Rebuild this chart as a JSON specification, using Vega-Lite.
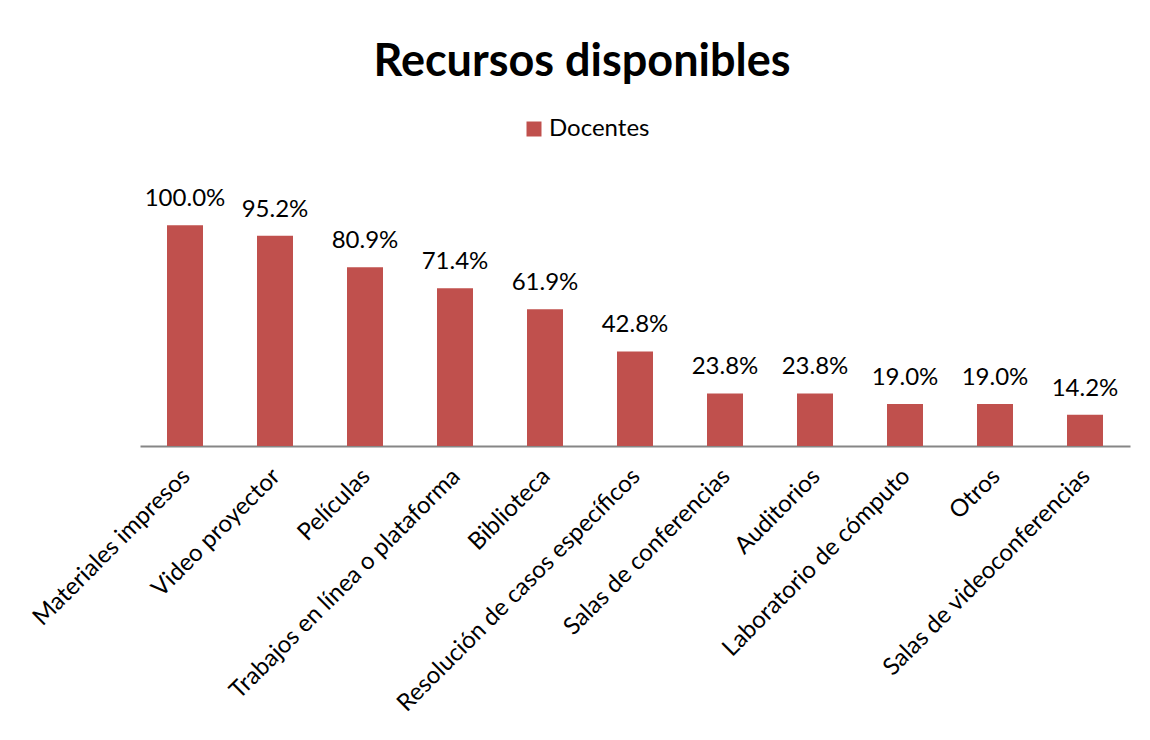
{
  "$schema": "https://vega.github.io/schema/vega-lite/v6.json",
  "width": 990,
  "height": 265,
  "autosize": "none",
  "padding": {"left": 140, "top": 181, "right": 20, "bottom": 294},
  "background": "white",
  "title": {
    "text": "Recursos disponibles",
    "font": "Lato",
    "fontSize": 45,
    "fontWeight": "bold",
    "color": "#000000",
    "anchor": "middle",
    "frame": "group",
    "dx": -53,
    "offset": 32
  },
  "data": {
    "values": [
      {"recurso": "Materiales impresos", "valor": 1.0, "serie": "Docentes"},
      {"recurso": "Video proyector", "valor": 0.952, "serie": "Docentes"},
      {"recurso": "Películas", "valor": 0.809, "serie": "Docentes"},
      {"recurso": "Trabajos en línea o plataforma", "valor": 0.714, "serie": "Docentes"},
      {"recurso": "Biblioteca", "valor": 0.619, "serie": "Docentes"},
      {"recurso": "Resolución de casos específicos", "valor": 0.428, "serie": "Docentes"},
      {"recurso": "Salas de conferencias", "valor": 0.238, "serie": "Docentes"},
      {"recurso": "Auditorios", "valor": 0.238, "serie": "Docentes"},
      {"recurso": "Laboratorio de cómputo", "valor": 0.19, "serie": "Docentes"},
      {"recurso": "Otros", "valor": 0.19, "serie": "Docentes"},
      {"recurso": "Salas de videoconferencias", "valor": 0.142, "serie": "Docentes"}
    ]
  },
  "encoding": {
    "x": {
      "field": "recurso",
      "type": "nominal",
      "sort": null,
      "scale": {"paddingInner": 0.6, "paddingOuter": 0.3},
      "axis": {
        "title": null,
        "labelAngle": -45,
        "labelFont": "Lato",
        "labelFontSize": 24,
        "labelColor": "#000000",
        "labelPadding": 18,
        "labelOffset": -7,
        "ticks": false,
        "domainColor": "#868686",
        "domainWidth": 2,
        "labelLimit": 500
      }
    },
    "y": {
      "field": "valor",
      "type": "quantitative",
      "scale": {"domain": [0, 1.2]},
      "axis": null
    }
  },
  "layer": [
    {
      "mark": {"type": "bar"},
      "encoding": {
        "color": {
          "field": "serie",
          "type": "nominal",
          "scale": {"range": ["#C0504D"]},
          "legend": {
            "title": null,
            "orient": "none",
            "legendX": 382,
            "legendY": -64,
            "symbolType": "square",
            "symbolSize": 225,
            "symbolStrokeWidth": 0,
            "labelFont": "Lato",
            "labelFontSize": 24,
            "labelColor": "#000000",
            "labelOffset": 3
          }
        }
      }
    },
    {
      "mark": {"type": "text", "baseline": "alphabetic", "dy": -19, "font": "Lato", "fontSize": 24, "color": "#000000"},
      "encoding": {
        "text": {"field": "valor", "type": "quantitative", "format": ".1%"}
      }
    }
  ],
  "config": {
    "view": {"stroke": null},
    "font": "Lato",
    "axis": {"grid": false}
  }
}
